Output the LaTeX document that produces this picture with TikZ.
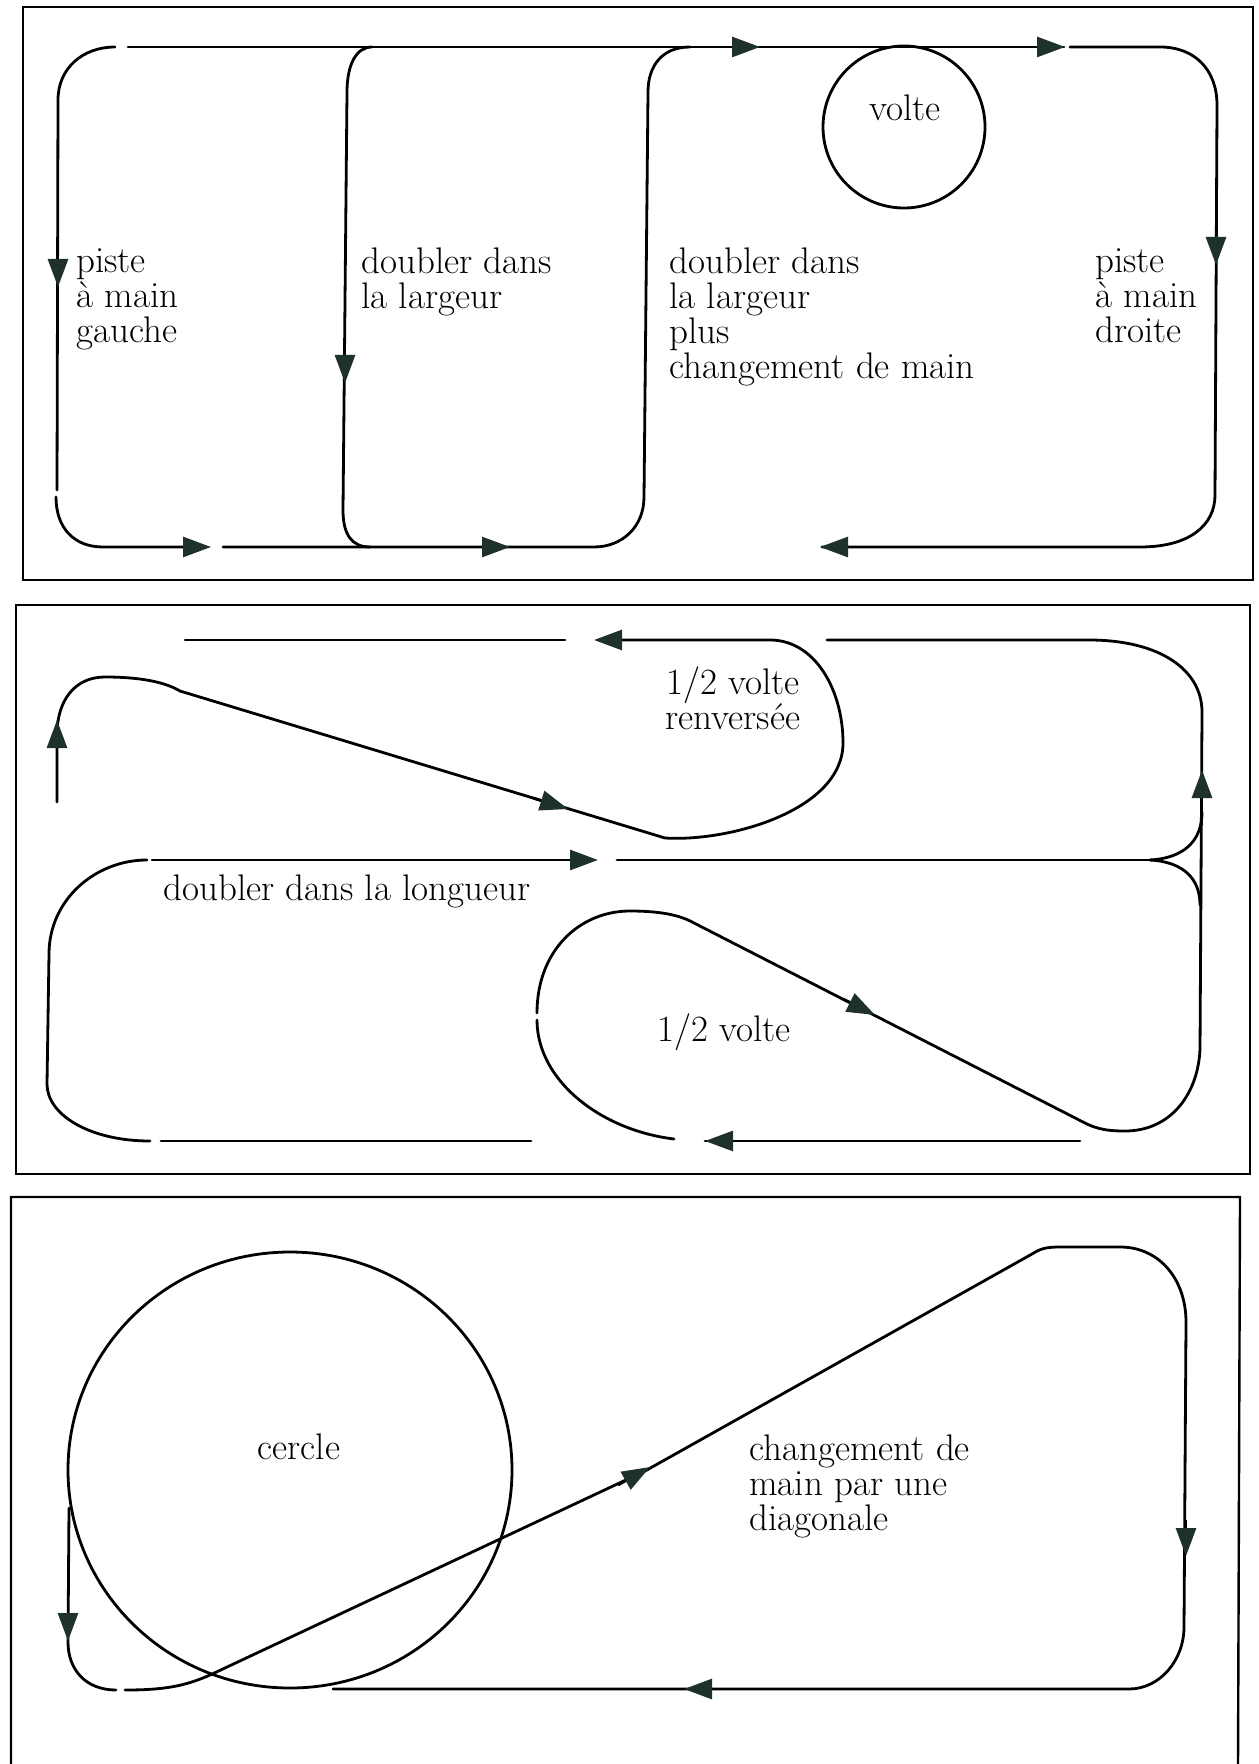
\documentclass[tikz,border=0pt]{standalone}
\usepackage{fontspec}
\usetikzlibrary{arrows.meta}
\definecolor{arrowcol}{RGB}{30,50,42}
\newcommand{\lblfont}{\fontsize{18.5}{17.5}\selectfont\lineskiplimit=-100pt\relax}
\begin{document}
\begin{tikzpicture}[x=0.5pt,y=-0.5pt,
  trk/.style={line width=1.4pt, line cap=round, line join=round},
  frm/.style={line width=1.2pt},
  arr/.style={line width=1.4pt,-{Triangle[length=14pt,width=10pt,color=arrowcol]}},
  lbl/.style={font=\lblfont, inner sep=0pt, align=left, anchor=north west},
  lblc/.style={font=\lblfont, inner sep=0pt, align=center, anchor=north},
  lblb/.style={font=\lblfont, inner sep=0pt, anchor=base},
]
\useasboundingbox (0,0) rectangle (1258,1764);

% ================= Panel 1 =================
\draw[frm] (23,7) rectangle (1253,580);
% outer left
\draw[trk] (115,47) .. controls (83,47) and (58,68) .. (58,100) -- (57,490);
\draw[trk] (56,497) .. controls (56,528) and (74,547) .. (103,547) -- (200,547);
% top line
\draw[trk] (128,47) -- (1064,47);
% doubler dans la largeur
\draw[trk] (372,47) .. controls (356,47) and (347,65) .. (347,92) -- (343,510) .. controls (343,535) and (352,547) .. (370,547);
% bottom line and changement de main
\draw[trk] (223,547) -- (594,547) .. controls (622,547) and (644,527) .. (644,497) -- (648,92) .. controls (648,66) and (662,47) .. (690,47);
% outer right
\draw[trk] (1070,47) -- (1160,47) .. controls (1195,47) and (1217,70) .. (1217,105) -- (1215,495) .. controls (1215,525) and (1190,547) .. (1140,547) -- (822,547);
% volte
\draw[trk] (904,127) circle[radius=81];
% arrows
\draw[arr] (58,250) -- (58,287);
\draw[arr] (175,547) -- (211,547);
\draw[arr] (345,345) -- (345,383);
\draw[arr] (475,547) -- (510,547);
\draw[arr] (725,47) -- (760,47);
\draw[arr] (1030,47) -- (1065,47);
\draw[arr] (1216,228) -- (1216,265);
\draw[arr] (855,547) -- (820,547);
% labels
\node[lbl] (p1a) at (76,247.5) {\strut piste\\à main\\gauche};
\node[lbl] (p1b) at (361,247.5) {\strut doubler dans\\la largeur};
\node[lbl] (p1c) at (669,247.5) {\strut doubler dans\\la largeur\\plus\\changement de main};
\node[lbl] (p1d) at (1095,247.5) {\strut piste\\à main\\droite};
\node[lblb] (p1e) at (905,121) {volte};

% ================= Panel 2 =================
\draw[frm] (16,605) rectangle (1250,1174);
% top line, left part
\draw[trk] (185,640) -- (565,640);
% demi-volte renversee
\draw[trk] (57,802) -- (57,735) .. controls (57,700) and (75,677) .. (105,677) .. controls (140,677) and (165,682) .. (180,691) -- (665,838) .. controls (730,842) and (843,810) .. (843,743) .. controls (843,690) and (815,640) .. (770,640) -- (600,640);
% top line, right part and right side
\draw[trk] (827,640) -- (1089,640) .. controls (1160,640) and (1202,670) .. (1202,712) -- (1200,1049) .. controls (1198,1095) and (1170,1131) .. (1125,1131) .. controls (1110,1131) and (1098,1130) .. (1083,1122);
% doubler dans la longueur
\draw[trk] (147,860) .. controls (95,860) and (49,900) .. (49,954) -- (47,1084) .. controls (47,1115) and (90,1141) .. (150,1141);
\draw[trk] (152,860) -- (569,860);
\draw[trk] (617,860) -- (1150,860);
\draw[trk] (1150,860) .. controls (1185,858) and (1202,840) .. (1202,812);
\draw[trk] (1150,860) .. controls (1185,862) and (1200,880) .. (1200,905);
\draw[trk] (161,1141) -- (531,1141);
% demi-volte
\draw[trk] (674,1139) .. controls (600,1130) and (537,1080) .. (537,1020);
\draw[trk] (537,1013) .. controls (537,950) and (580,911) .. (630,911) .. controls (660,911) and (680,915) .. (694,923) -- (1083,1122);
\draw[trk] (1080,1141) -- (705,1141);
% arrows
\draw[arr] (57,760) -- (57,720);
\draw[arr] (533,798) -- (568,809);
\draw[arr] (630,640) -- (594,640);
\draw[arr] (560,860) -- (598,860);
\draw[arr] (1202,805) -- (1202,770);
\draw[arr] (843,999) -- (875,1015);
\draw[arr] (740,1141) -- (705,1141);
% labels
\node[lblc] (p2a) at (733,666.5) {\strut 1/2 volte\\renversée};
\node[lblb, anchor=base west] (p2b) at (163,900) {doubler dans la longueur};
\node[lblb, anchor=base west] (p2c) at (657,1041) {1/2 volte};

% ================= Panel 3 =================
\draw[frm] (11,1764) -- (11,1197) -- (1240,1197) -- (1238,1764);
% cercle
\draw[trk] (290,1470) ellipse[x radius=222, y radius=218];
% left side
\draw[trk] (69,1508) -- (68,1642) .. controls (68,1670) and (86,1690) .. (116,1690);
% diagonal and right side
\draw[trk] (125,1690) .. controls (165,1690) and (185,1686) .. (210,1675) -- (645,1471) -- (1032,1254) .. controls (1040,1249) and (1045,1247) .. (1060,1247) -- (1120,1247) .. controls (1160,1247) and (1186,1280) .. (1186,1322) -- (1184,1627) .. controls (1184,1660) and (1160,1689) .. (1129,1689) -- (333,1689);
% arrows
\draw[arr] (68,1605) -- (68,1641);
\draw[arr] (618,1485) -- (650,1467);
\draw[arr] (1186,1520) -- (1186,1556);
\draw[arr] (720,1689) -- (684,1689);
% labels
\node[lblb] (p3a) at (299,1459) {cercle};
\node[lbl] (p3b) at (749,1434.5) {\strut changement de\\main par une\\diagonale};
\end{tikzpicture}
\end{document}
